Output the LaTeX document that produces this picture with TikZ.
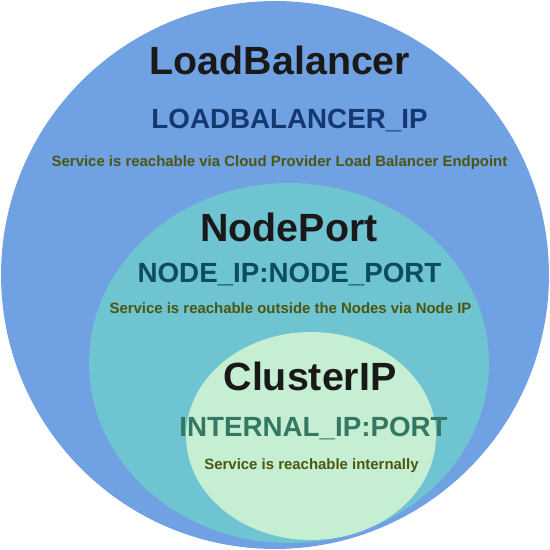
\documentclass[tikz,border=0pt]{standalone}
\usepackage{fontspec}
\setmainfont{Liberation Sans}

\definecolor{lbblue}{RGB}{111,161,227}
\definecolor{npteal}{RGB}{110,196,208}
\definecolor{cipgreen}{RGB}{197,238,211}
\definecolor{lbaddr}{RGB}{22,56,112}
\definecolor{npaddr}{RGB}{14,76,102}
\definecolor{cipaddr}{RGB}{52,120,100}
\definecolor{olive}{RGB}{76,86,16}

\begin{document}
\begin{tikzpicture}
[
	headtext/.style={anchor=base,inner sep=0pt,font=\fontsize{22.4}{26}\selectfont\bfseries,text=black!90},
	addrtext/.style={anchor=base,inner sep=0pt,font=\fontsize{15.8}{19}\selectfont\bfseries},
	notetext/.style={anchor=base,inner sep=0pt,font=\fontsize{8.5}{10}\selectfont\bfseries,text=olive},
	x=0.02cm,
	y=-0.02cm
]

	\useasboundingbox (0,0) rectangle (550,550);

	% circles
	\fill[lbblue] (275,275) circle [radius=5.48cm];
	\fill[npteal] (289,363) ellipse [x radius=4cm, y radius=3.6cm];
	\fill[cipgreen] (311,436) ellipse [x radius=2.5cm, y radius=2.08cm];

	% LoadBalancer
	\node[headtext] (lb) at (280,75) {LoadBalancer};
	\node[addrtext,text=lbaddr] (lbip) at (289.5,129) {LOADBALANCER\_IP};
	\node[notetext] (lbnote) at (279.5,166.5) {Service is reachable via Cloud Provider Load Balancer Endpoint};

	% NodePort
	\node[headtext] (np) at (289,241) {NodePort};
	\node[addrtext,text=npaddr] (npip) at (289.5,282) {NODE\_IP:NODE\_PORT};
	\node[notetext] (npnote) at (290.5,313) {Service is reachable outside the Nodes via Node IP};

	% ClusterIP
	\node[headtext] (cip) at (310,390) {ClusterIP};
	\node[addrtext,text=cipaddr] (cipip) at (313.5,436) {INTERNAL\_IP:PORT};
	\node[notetext] (cipnote) at (311.5,469) {Service is reachable internally};

\end{tikzpicture}
\end{document}
